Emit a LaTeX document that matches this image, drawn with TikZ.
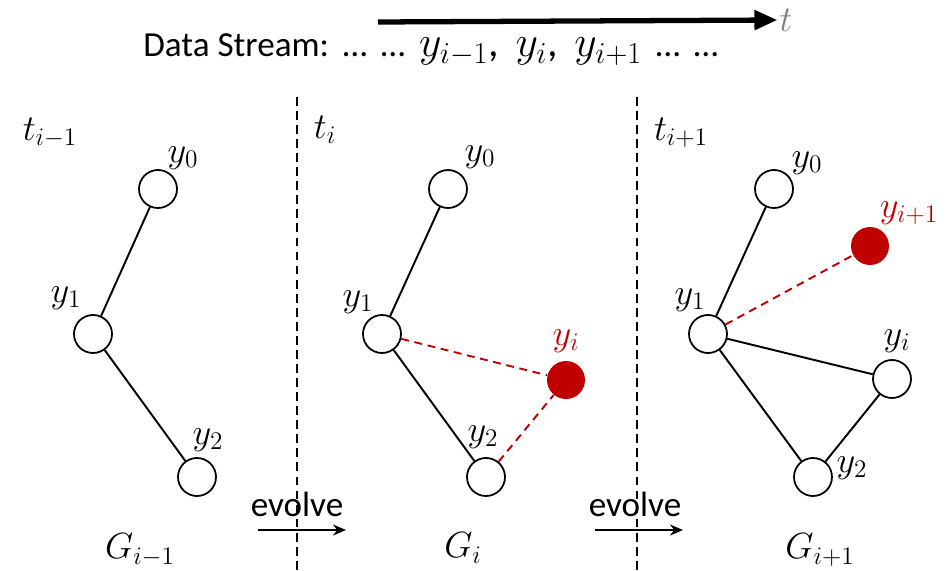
\documentclass[tikz,border=0pt]{standalone}
\usepackage{fontspec}
\setmainfont{Carlito}
\usepackage{amsmath}
\usepackage{xcolor}
\usetikzlibrary{arrows.meta}

\definecolor{newred}{RGB}{192,0,0}

\begin{document}
\begin{tikzpicture}[
    x=0.02cm, y=-0.02cm,
    font=\fontsize{20}{24}\selectfont,
    >={Stealth[length=2.6mm,width=2.2mm]},
    vtx/.style={draw, circle, line width=1pt, minimum size=7.6mm,
                inner sep=0pt, fill=white},
    newv/.style={circle, fill=newred, minimum size=7.6mm, inner sep=0pt},
    lab/.style={inner sep=1pt, font=\fontsize{22}{26}\selectfont},
    edge/.style={line width=1.1pt},
    nedge/.style={line width=1.1pt, newred, dash pattern=on 4.5pt off 3.2pt},
    sep/.style={line width=1.1pt, dash pattern=on 5pt off 3pt},
    evo/.style={->, line width=1.1pt},
  ]
  \useasboundingbox (0,0) rectangle (948,571);

  %% ---- time axis and stream --------------------------------------
  \coordinate (ts) at (378,22);
  \node[lab, text=black!50] (t) at (786,20) {$t$};
  \draw[line width=3pt, -{Triangle[length=4.6mm,width=3.8mm]}] (ts) -- (t.west);
  \node[inner sep=0pt, anchor=west] (stream) at (143,50)
    {Data Stream:~\,…~\,…~\,{\fontsize{24}{28}\selectfont$y_{i-1}$,~\,$y_i$,~\,$y_{i+1}$}~\,…~\,…};

  %% ---- separators -------------------------------------------------
  \coordinate (s1t) at (297,97);  \coordinate (s1b) at (297,571);
  \coordinate (s2t) at (637,97);  \coordinate (s2b) at (637,571);
  \draw[sep] (s1t) -- (s1b);
  \draw[sep] (s2t) -- (s2b);

  %% ---- G_{i-1} ----------------------------------------------------
  \node[lab] (T1) at (50,133) {$t_{i-1}$};
  \node[vtx] (A0) at (158,189) {};
  \node[vtx] (A1) at ( 93,334) {};
  \node[vtx] (A2) at (197,477) {};
  \draw[edge] (A0) -- (A1);
  \draw[edge] (A1) -- (A2);
  \node[lab] (LA0) at (183,158) {$y_0$};
  \node[lab] (LA1) at ( 66,298) {$y_1$};
  \node[lab] (LA2) at (208,440) {$y_2$};
  \node[lab] (G1) at (140,550) {$G_{i-1}$};

  %% ---- G_i ----------------------------------------------------------
  \node[lab] (T2) at (325,130) {$t_i$};
  \node[vtx] (B0) at (448,189) {};
  \node[vtx] (B1) at (382,334) {};
  \node[vtx] (B2) at (486,477) {};
  \node[newv] (Bi) at (566,380) {};
  \draw[edge] (B0) -- (B1);
  \draw[edge] (B1) -- (B2);
  \draw[nedge] (B1) -- (Bi);
  \draw[nedge] (B2) -- (Bi);
  \node[lab] (LB0) at (480,157) {$y_0$};
  \node[lab] (LB1) at (358,302) {$y_1$};
  \node[lab, text=newred] (LBi) at (566,341) {$y_i$};
  \node[lab] (LB2) at (483,437) {$y_2$};
  \node[lab] (G2) at (463,548) {$G_i$};

  %% ---- G_{i+1} ------------------------------------------------------
  \node[lab] (T3) at (681,133) {$t_{i+1}$};
  \node[vtx] (C0) at (774,189) {};
  \node[vtx] (C1) at (708,334) {};
  \node[vtx] (Ci) at (892,379) {};
  \node[vtx] (C2) at (813,477) {};
  \node[newv] (Cn) at (870,246) {};
  \draw[edge] (C0) -- (C1);
  \draw[edge] (C1) -- (Ci);
  \draw[edge] (C1) -- (C2);
  \draw[edge] (Ci) -- (C2);
  \draw[nedge] (C1) -- (Cn);
  \node[lab] (LC0) at (807,163) {$y_0$};
  \node[lab, text=newred] (LCn) at (909,213) {$y_{i+1}$};
  \node[lab] (LC1) at (690,300) {$y_1$};
  \node[lab] (LCi) at (897,341) {$y_i$};
  \node[lab] (LC2) at (852,468) {$y_2$};
  \node[lab] (G3) at (820,550) {$G_{i+1}$};

  %% ---- evolve steps -------------------------------------------------
  \node[inner sep=1pt] (E1) at (297,504) {evolve};
  \coordinate (e1a) at (258,530);  \coordinate (e1b) at (346,530);
  \draw[evo] (e1a) -- (e1b);
  \node[inner sep=1pt] (E2) at (635,504) {evolve};
  \coordinate (e2a) at (595,530);  \coordinate (e2b) at (683,530);
  \draw[evo] (e2a) -- (e2b);

\end{tikzpicture}
\end{document}
